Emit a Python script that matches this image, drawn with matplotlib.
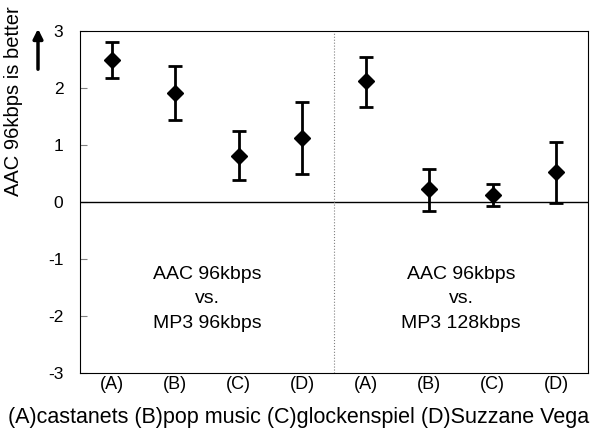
import numpy as np
import matplotlib.pyplot as plt

labels = ['(A)', '(B)', '(C)', '(D)', '(A)', '(B)', '(C)', '(D)']
means = [2.50, 1.91, 0.81, 1.12, 2.12, 0.22, 0.13, 0.53]
upper = [2.81, 2.38, 1.25, 1.75, 2.54, 0.58, 0.31, 1.05]
lower = [2.18, 1.44, 0.38, 0.49, 1.67, -0.15, -0.07, -0.01]

plt.rcParams['font.family'] = ['Liberation Sans', 'DejaVu Sans']
plt.rcParams['axes.unicode_minus'] = False

fig = plt.figure(figsize=(5.99, 4.32), dpi=100)
ax = fig.add_axes([80/599, 1 - 373/432, 508/599, 342/432])

x = np.arange(len(means)) + 0.5
m = np.array(means)
yerr = [m - np.array(lower), np.array(upper) - m]
ax.errorbar(x, m, yerr=yerr, fmt='D', color='black', ms=8, elinewidth=2,
            capsize=5, capthick=2)

ax.axhline(0, color='black', lw=1)
ax.axvline(4, color='gray', lw=0.8, ls=':')

ax.set_xlim(0, 8)
ax.set_ylim(-3, 3)
ax.set_yticks(range(-3, 4))
ax.set_xticks(x)
ax.set_xticklabels(labels, fontsize=13)
ax.tick_params(axis='x', length=0, pad=2)
ax.tick_params(axis='y', direction='in', length=5, color='gray', labelsize=12.5, pad=12)

ax.text(2, -1.70, 'AAC 96kbps\nvs.\nMP3 96kbps', ha='center', va='center',
        fontsize=14, linespacing=1.55)
ax.text(6, -1.70, 'AAC 96kbps\nvs.\nMP3 128kbps', ha='center', va='center',
        fontsize=14, linespacing=1.55)

fig.text(299/599, 1 - 417/432,
         '(A)castanets (B)pop music (C)glockenspiel (D)Suzzane Vega',
         ha='center', va='center', fontsize=15.5)

fig.text(14/599, 1 - 101/432, 'AAC 96kbps is better', rotation=90,
         ha='center', va='center', fontsize=14.5)
fig.add_artist(plt.Annotation('', xy=(38/599, 1 - 26/432), xycoords='figure fraction',
                              xytext=(38/599, 1 - 72/432), textcoords='figure fraction',
                              arrowprops=dict(arrowstyle='-|>', color='black', lw=2.5,
                                              mutation_scale=14)))

fig.savefig('out.png', dpi=100)
